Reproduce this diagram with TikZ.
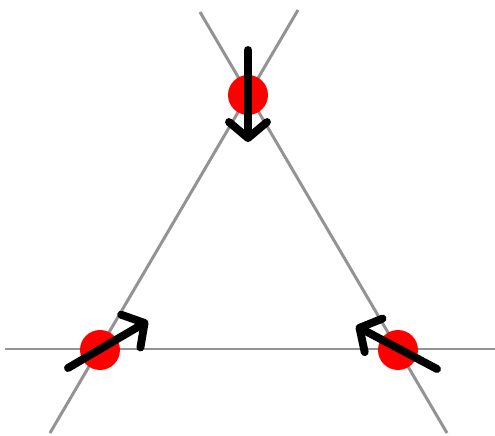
\documentclass[tikz,border=0pt]{standalone}
\usetikzlibrary{arrows.meta}
\tikzset{
  guide/.style={draw=gray!85, line width=1.7pt},
  dot/.style={circle, fill=red, inner sep=0pt, minimum size=0.8cm},
  push/.style={line width=4.5pt, line cap=round, line join=round,
    -{Straight Barb[length=3.2mm, width=7.6mm, line cap=round, line join=round]}}
}
\begin{document}
\begin{tikzpicture}[x=0.02cm, y=-0.02cm]
  \useasboundingbox (0,0) rectangle (495,436);
  % lines of the triangle
  \coordinate (l1) at (5,349);   \coordinate (r1) at (495,349);
  \coordinate (l2) at (298,10);  \coordinate (r2) at (50,433);
  \coordinate (l3) at (200,12);  \coordinate (r3) at (447,433);
  \foreach \i in {1,2,3}
    \draw[guide] (l\i) -- (r\i);
  % vertices
  \node[dot] (apex) at (248,95) {};
  \node[dot] (left) at (100,350) {};
  \node[dot] (right) at (398,350) {};
  % arrows
  \coordinate (a1) at (248,50);  \coordinate (b1) at (248,142);
  \coordinate (a2) at (68,368);  \coordinate (b2) at (148,321);
  \coordinate (a3) at (437,369); \coordinate (b3) at (356,326);
  \foreach \i in {1,2,3}
    \draw[push] (a\i) -- (b\i);
\end{tikzpicture}
\end{document}
